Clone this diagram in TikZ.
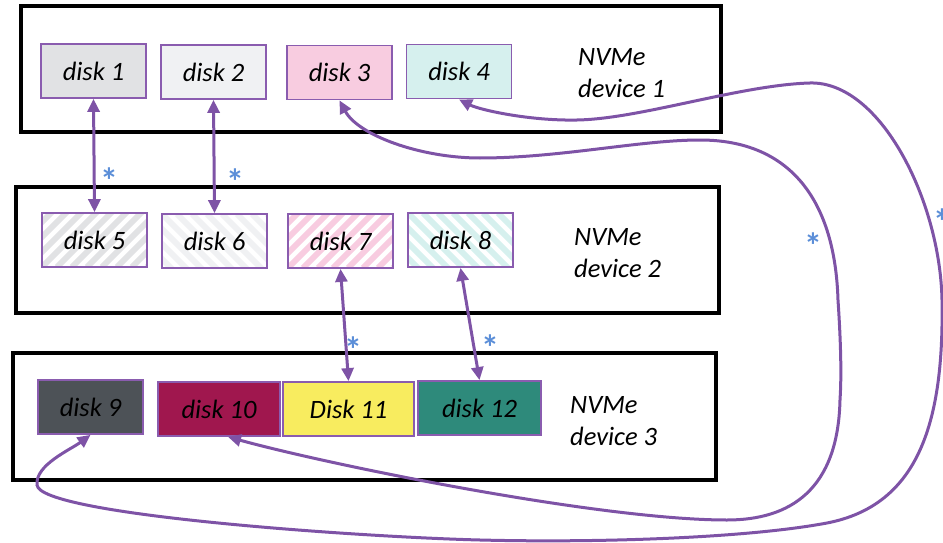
\documentclass[tikz,border=0pt]{standalone}
\usepackage{fontspec}
\setmainfont{Carlito}
\usetikzlibrary{arrows.meta}

\definecolor{linkpurple}{HTML}{7E53A6}
\definecolor{diskedge}{HTML}{8A5CAF}
\definecolor{starblue}{HTML}{5B8ED8}
\definecolor{cGrayA}{HTML}{E1E2E4}
\definecolor{cGrayB}{HTML}{F0F1F3}
\definecolor{cPink}{HTML}{F8CCE0}
\definecolor{cMint}{HTML}{D6F0EE}
\definecolor{cSlate}{HTML}{4D5257}
\definecolor{cWine}{HTML}{A0174E}
\definecolor{cLemon}{HTML}{F8EC5F}
\definecolor{cTeal}{HTML}{2E8A7B}

\tikzset{
  device/.style={draw=black, line width=4.5pt},
  disk/.style={draw=diskedge, line width=1.8pt, minimum width=105pt,
    minimum height=54pt, inner sep=0pt,
    font=\fontsize{26.5}{30}\selectfont\itshape},
  devlabel/.style={anchor=base west, align=left, inner sep=0pt,
    font=\fontsize{26.5}{32}\selectfont\itshape},
  stripefwd/.style={path picture={
      \foreach \k in {-5,...,8}{
        \draw[#1, line width=6pt]
          ([xshift=\k*15pt]path picture bounding box.south west) -- ++(75pt,75pt);}}},
  stripeback/.style={path picture={
      \foreach \k in {-5,...,8}{
        \draw[#1, line width=6pt]
          ([xshift=\k*15pt]path picture bounding box.north west) -- ++(75pt,-75pt);}}},
  dlink/.style={draw=linkpurple, line width=3pt,
    {Triangle[length=13pt,width=12pt]}-{Triangle[length=13pt,width=12pt]}},
  star/.style={text=starblue, inner sep=0pt,
    font=\fontsize{36}{40}\selectfont\bfseries},
}

\begin{document}
\begin{tikzpicture}[x=1pt, y=-1pt]
\useasboundingbox (0,0) rectangle (943,543);

% three NVMe device frames
\draw[device] (21,6) rectangle (721,132);
\draw[device] (16,187) rectangle (719,313);
\draw[device] (13,353) rectangle (716,480);

% device names (anchored on the baseline of the second line)
\node[devlabel] (dev1) at (578,97) {NVMe\\device 1};
\node[devlabel] (dev2) at (574,277) {NVMe\\device 2};
\node[devlabel] (dev3) at (570,445) {NVMe\\device 3};

% device 1 disks
\node[disk, fill=cGrayA] (d1) at (93.5,71) {disk 1};
\node[disk, fill=cGrayB] (d2) at (213.5,72) {disk 2};
\node[disk, fill=cPink]  (d3) at (339.5,72.5) {disk 3};
\node[disk, fill=cMint]  (d4) at (459,71.5) {disk 4};

% device 2 disks (striped copies)
\node[disk, fill=white, stripefwd=cGrayA]  (d5) at (94.5,240) {disk 5};
\node[disk, fill=white, stripeback=cGrayB] (d6) at (214.5,241) {disk 6};
\node[disk, fill=white, stripefwd=cPink]   (d7) at (340.5,241) {disk 7};
\node[disk, fill=white, stripeback=cMint]  (d8) at (460.5,240) {disk 8};

% device 3 disks
\node[disk, fill=cSlate] (d9) at (90.5,407) {disk 9};
\node[disk, fill=cWine, minimum width=122pt]  (d10) at (219,409) {disk 10};
\node[disk, fill=cLemon, minimum width=131pt] (d11) at (348.5,409) {Disk 11};
\node[disk, fill=cTeal, minimum width=123pt]  (d12) at (479.5,408) {disk 12};

% straight links between neighbouring devices
\draw[dlink] (d1.south) -- (d5.north);
\draw[dlink] (d2.south) -- (d6.north);
\draw[dlink] (d7.south) -- (d11.north);
\draw[dlink] (d8.south) -- (d12.north);

% long link disk 3 <-> disk 10
\draw[dlink] (d3.south)
  .. controls (358,135) and (420,158) .. (480,158)
  .. controls (560,158) and (640,140) .. (700,140)
  .. controls (790,140) and (835,200) .. (838,300)
  .. controls (840,330) and (842,370) .. (840,400)
  .. controls (838,490) and (790,520) .. (727,520)
  .. controls (600,520) and (330,465) .. ([xshift=9pt]d10.south);

% long link disk 4 <-> disk 9
\draw[dlink] (d4.south)
  .. controls (480,110) and (530,121) .. (577,120)
  .. controls (640,119) and (740,85) .. (810,83)
  .. controls (880,81) and (940,200) .. (942,300)
  .. controls (944,420) and (920,505) .. (827,523)
  .. controls (747,538) and (600,543) .. (480,540)
  .. controls (360,537) and (40,515) .. (37,485)
  .. controls (35,465) and (70,450) .. (d9.south);

% asterisk markers
\node[star] (s1) at (109,181) {*};
\node[star] (s2) at (235,182) {*};
\node[star] (s3) at (353,350) {*};
\node[star] (s4) at (490,348) {*};
\node[star] (s5) at (813,246) {*};
\node[star] (s6) at (942,222) {*};
\end{tikzpicture}
\end{document}
